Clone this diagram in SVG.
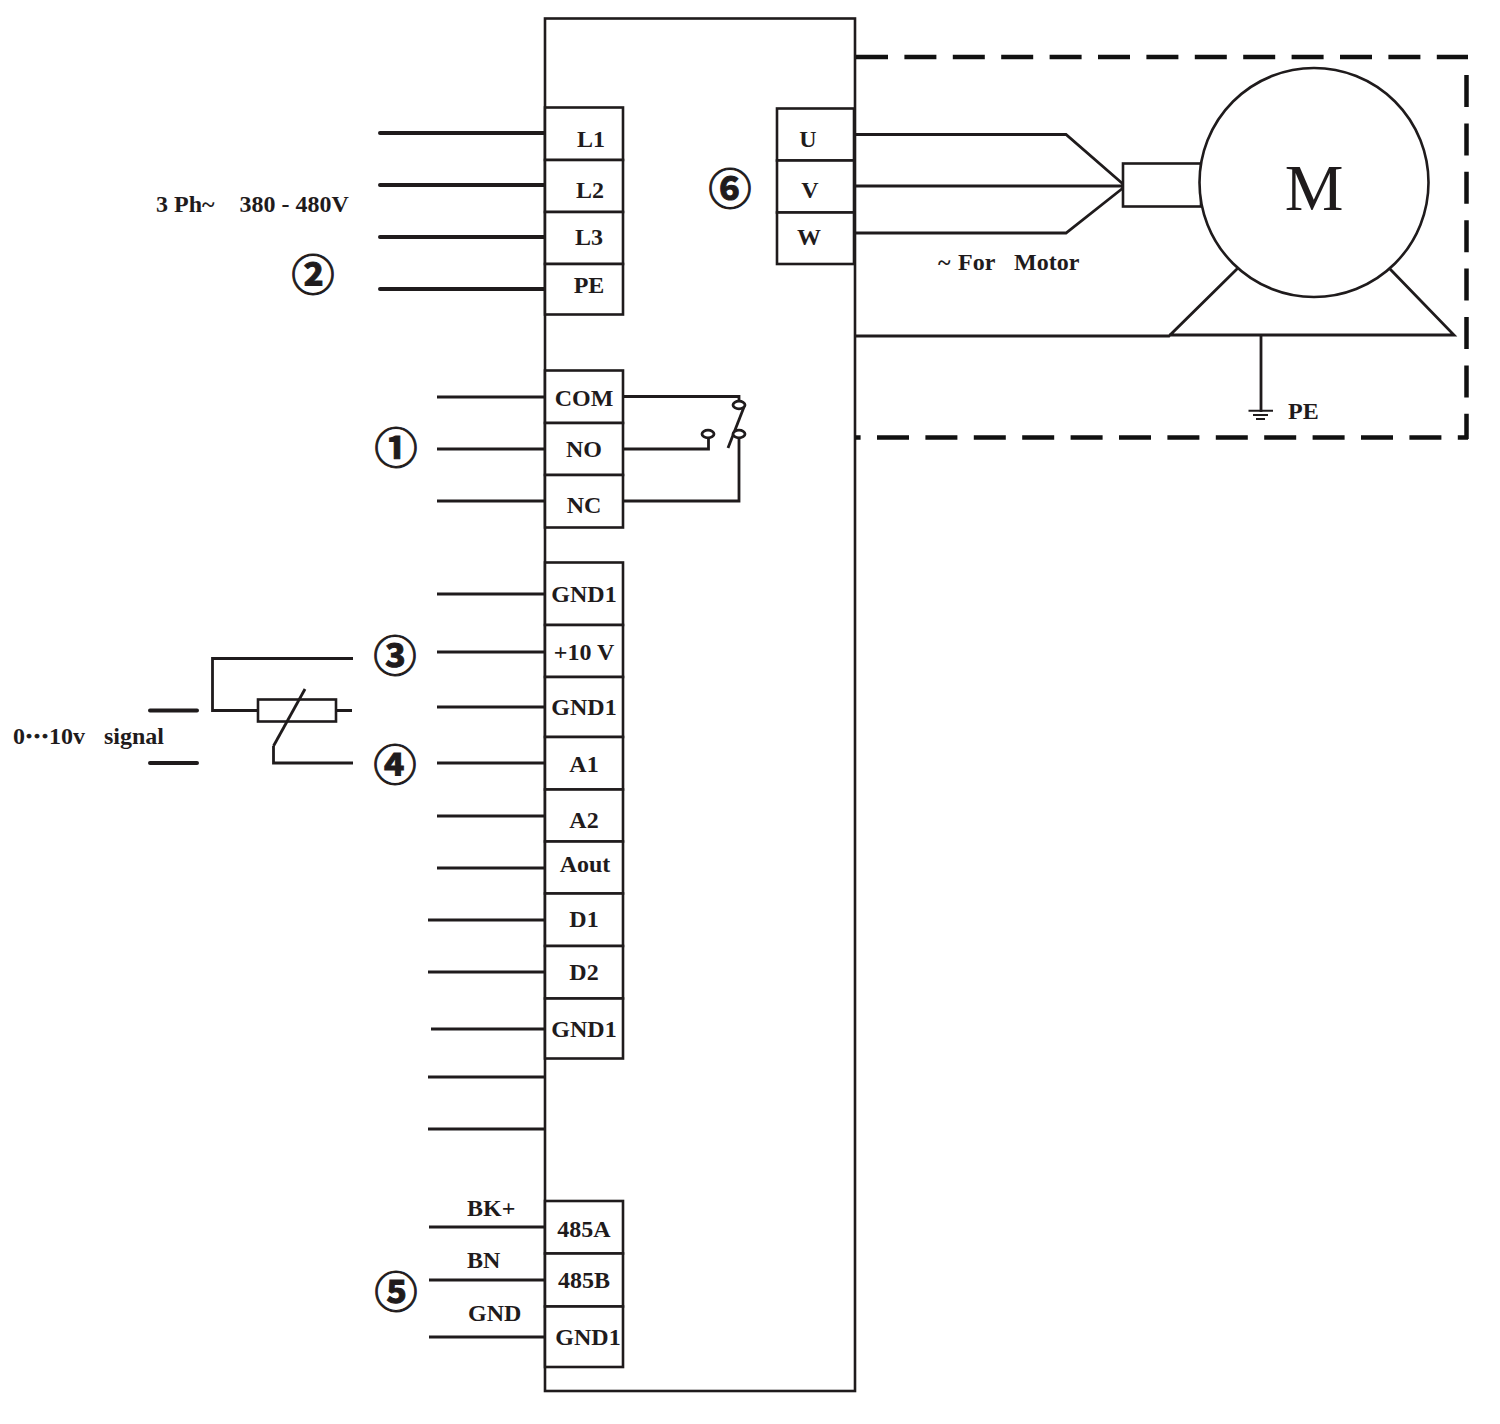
<svg xmlns="http://www.w3.org/2000/svg" width="1500" height="1424" viewBox="0 0 1500 1424">
<style>
text{font-family:"Liberation Serif","Times New Roman",serif;font-weight:700;fill:#1f1b1c;font-size:24px;text-anchor:middle}
.l{text-anchor:start}
.n{font-family:"DejaVu Serif","Noto Sans CJK JP",serif;font-size:43px;font-weight:700;stroke:#1f1b1c;stroke-width:1}
.box{fill:#fff;stroke:#1f1b1c;stroke-width:2.6}
.w{fill:none;stroke:#1f1b1c;stroke-width:2.8}
.g{fill:none;stroke:#1f1b1c;stroke-width:2}
.t{fill:none;stroke:#1f1b1c;stroke-width:4;stroke-linecap:round}
.d{fill:none;stroke:#111;stroke-width:4.5;stroke-dasharray:32 16.4}
.c{fill:#fff;stroke:#1f1b1c;stroke-width:2.8}
.dots{stroke:#1f1b1c;stroke-width:1}
</style>
<rect width="1500" height="1424" fill="#fff"/>
<g id="drive"><rect class="box" x="545" y="18.500" width="310" height="1372.500"/></g>
<g id="connectors">
<path class="t" d="M380 133H546M380 185H546M380 237H546M380 289H546"/>
<path class="w" d="M437 397H546M437 449H546M437 501H546M437 594H546M437 652H546M437 707H546M437 763H546M437 816H546M437 868H546M428 920H546M428 972H546M431 1029H546M428 1077H546M428 1129H546M429 1227H546M429 1280H546M429 1337H546"/>
<path class="w" d="M623 396.500H739V402M623 449H708.500V438M623 501H739V437"/>
<path class="w" d="M744 407L728 448"/>
<path class="w" d="M855 134.500H1066L1123 184M855 186H1123M855 233H1066L1123 188"/>
<path class="w" d="M855 336H1169L1238 268M1169 335H1454L1390 269M1261 335V412"/>
<path class="g" d="M1248.500 410.700H1273M1253 415H1268M1256 419H1265"/>
<path class="d" d="M856 57H1468"/>
<path class="d" d="M1466.500 75V439"/>
<path class="d" stroke-dashoffset="26.400" d="M855 437.500H1468"/>
<path class="w" d="M353 658.500H212.500V710.500H258M336 710.500H352M353 763H273.500V746"/>
<path class="t" d="M150 710.500H197M150 763H197"/>
</g>
<g id="power-terminals">
<rect class="box" x="545" y="107.500" width="78" height="52.500"/><text x="591" y="147">L1</text>
<rect class="box" x="545" y="160" width="78" height="52"/><text x="590" y="198">L2</text>
<rect class="box" x="545" y="212" width="78" height="52"/><text x="589" y="245">L3</text>
<rect class="box" x="545" y="264" width="78" height="50.500"/><text x="589" y="293">PE</text>
</g>
<g id="relay-terminals">
<rect class="box" x="545" y="370.500" width="78" height="52.500"/><text x="584" y="406">COM</text>
<rect class="box" x="545" y="423" width="78" height="52"/><text x="584" y="457">NO</text>
<rect class="box" x="545" y="475" width="78" height="52.500"/><text x="584" y="513">NC</text>
<ellipse class="c" cx="739" cy="405" rx="6" ry="3.800"/><ellipse class="c" cx="708" cy="434" rx="6" ry="3.800"/><ellipse class="c" cx="739" cy="434" rx="6" ry="3.800"/>
</g>
<g id="control-terminals">
<rect class="box" x="545" y="562.500" width="78" height="62.500"/><text x="584" y="602">GND1</text>
<rect class="box" x="545" y="625" width="78" height="52"/><text x="584" y="660">+10 V</text>
<rect class="box" x="545" y="677" width="78" height="60"/><text x="584" y="715">GND1</text>
<rect class="box" x="545" y="737" width="78" height="52.500"/><text x="584" y="772">A1</text>
<rect class="box" x="545" y="789.500" width="78" height="52"/><text x="584" y="828">A2</text>
<rect class="box" x="545" y="841.500" width="78" height="52"/><text x="585" y="872">Aout</text>
<rect class="box" x="545" y="893.500" width="78" height="52.500"/><text x="584" y="927">D1</text>
<rect class="box" x="545" y="946" width="78" height="52.500"/><text x="584" y="980">D2</text>
<rect class="box" x="545" y="998.500" width="78" height="60"/><text x="584" y="1037">GND1</text>
</g>
<g id="bus-terminals">
<rect class="box" x="545" y="1201" width="78" height="52.500"/><text x="584" y="1237">485A</text>
<rect class="box" x="545" y="1253.500" width="78" height="53"/><text x="584" y="1288">485B</text>
<rect class="box" x="545" y="1306.500" width="78" height="60.500"/><text x="588" y="1345">GND1</text>
<text class="l" x="467" y="1216">BK+</text><text class="l" x="467" y="1268">BN</text><text class="l" x="468" y="1321">GND</text>
</g>
<g id="motor-terminals">
<rect class="box" x="777" y="108.500" width="77" height="52"/><text x="808" y="147">U</text>
<rect class="box" x="777" y="160.500" width="77" height="52"/><text x="810" y="198">V</text>
<rect class="box" x="777" y="212.500" width="77" height="51.500"/><text x="809" y="245">W</text>
</g>
<g id="motor">
<rect class="box" x="1123" y="163.500" width="78" height="43"/>
<circle class="box" cx="1314" cy="182.500" r="114.500"/>
<text x="1314" y="210" style="font-size:66px;font-weight:400">M</text>
<text class="l" x="938" y="270">~ <tspan x="958">For</tspan><tspan x="1014">Motor</tspan></text>
<text class="l" x="1288" y="419">PE</text>
</g>
<g id="potentiometer"><rect class="box" x="258" y="699.500" width="78" height="22"/><path class="w" d="M273.500 746L305 689"/></g>
<g id="labels">
<text class="l" x="156" y="212">3 Ph~</text><text class="l" x="239.500" y="212">380 - 480V</text>
<text class="l" x="13" y="744">0<tspan class="dots">···</tspan>10v</text><text class="l" x="104" y="744">signal</text>
<text class="n" x="313" y="291">②</text>
<text class="n" x="396" y="464">①</text>
<text class="n" x="395" y="672">③</text>
<text class="n" x="395" y="781">④</text>
<text class="n" x="396" y="1308">⑤</text>
<text class="n" x="730" y="205">⑥</text>
</g>
</svg>
